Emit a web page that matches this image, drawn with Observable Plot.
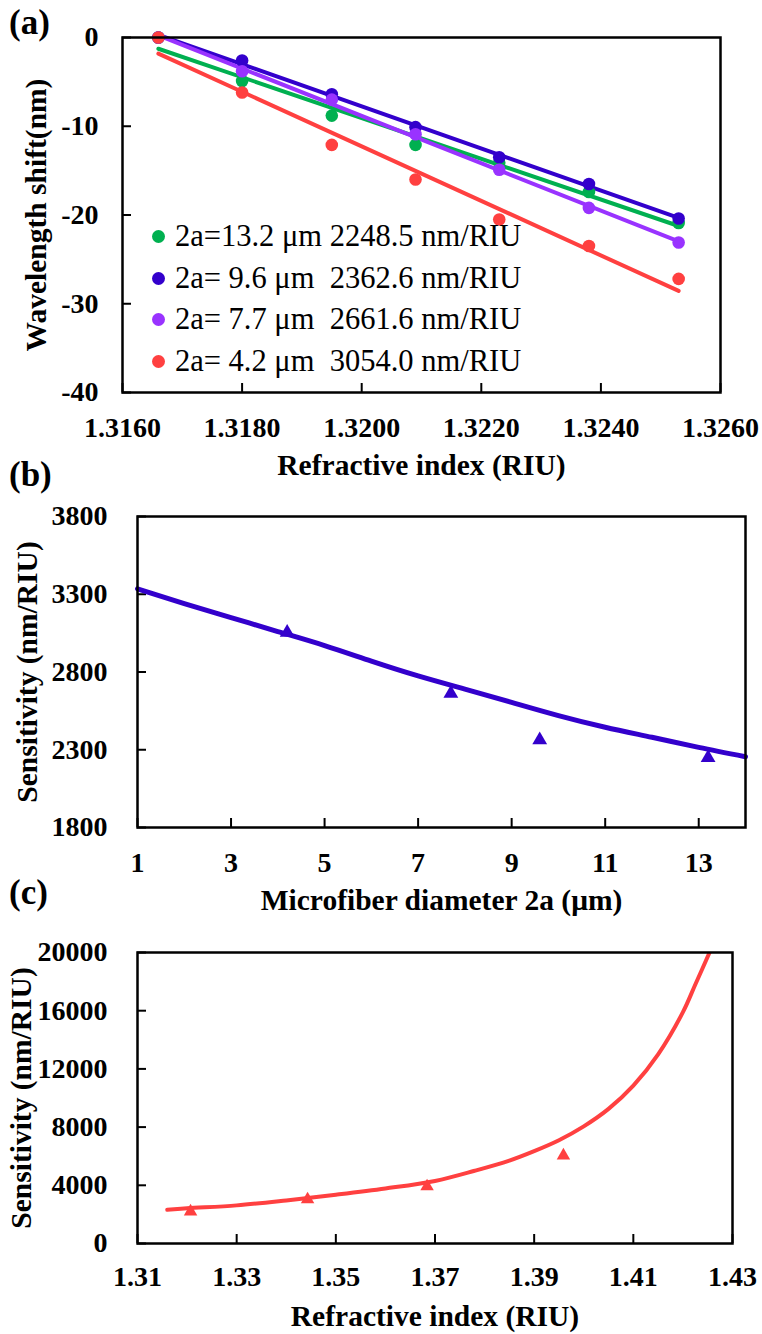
<!DOCTYPE html>
<html><head><meta charset="utf-8">
<script src="https://cdn.jsdelivr.net/npm/d3@7"></script>
<script src="https://cdn.jsdelivr.net/npm/@observablehq/plot@0.6"></script>
<style>
html,body{margin:0;padding:0;background:#fff;}
#page{position:relative;width:762px;height:1334px;overflow:hidden;font-family:"Liberation Serif","Times New Roman",serif;color:#000;background:#fff;}
.panel{position:absolute;left:0;}
.plabel{position:absolute;left:9px;font-weight:bold;font-size:35px;line-height:1;}
.legend{position:absolute;left:152px;top:216px;font-size:30.5px;line-height:41.5px;white-space:pre;}
.legend .row{display:flex;align-items:center;height:41.5px;}
.legend .sw{display:inline-block;width:13px;height:13px;border-radius:50%;margin-right:10px;}
</style>
</head><body>
<div id="page">
  <div class="panel" id="pa" style="top:0"></div>
  <div class="panel" id="pb" style="top:480px"></div>
  <div class="panel" id="pc" style="top:920px"></div>
  <div class="plabel" style="top:5px">(a)</div>
  <div class="plabel" style="top:457px">(b)</div>
  <div class="plabel" style="top:875px">(c)</div>
  <div class="legend" id="legA"></div>
</div>
<script>
// ---------- Panel (a) data ----------
const riA = [1.3166, 1.3180, 1.3195, 1.3209, 1.3223, 1.3238, 1.3253];
const shift132 = [0, -4.9, -8.8, -12.1, -14.1, -17.4, -20.9];
const shift96  = [0, -2.6, -6.4, -10.1, -13.5, -16.5, -20.4];
const shift77  = [0, -3.8, -7.0, -10.9, -14.9, -19.2, -23.1];
const shift42  = [0, -6.2, -12.1, -16.0, -20.5, -23.5, -27.2];
const seriesA = ["2a=13.2 μm 2248.5 nm/RIU", "2a= 9.6 μm  2362.6 nm/RIU", "2a= 7.7 μm  2661.6 nm/RIU", "2a= 4.2 μm  3054.0 nm/RIU"];
const colorsA = ["#00B050", "#3300CC", "#9933FF", "#FF4040"];
const xTicksA = [1.316, 1.318, 1.320, 1.322, 1.324, 1.326];
const yTicksA = [0, -10, -20, -30, -40];

// ---------- Panel (b) data ----------
const diamB = [4.2, 7.7, 9.6, 13.2];
const sensB = [3054.0, 2661.6, 2362.6, 2248.5];
const fitDiamB = [1, 2, 3, 4, 5, 6, 7, 8, 9, 10, 11, 12, 13, 14];
const fitSensB = [3335, 3240, 3150, 3060, 2970, 2870, 2775, 2690, 2605, 2520, 2445, 2380, 2315, 2255];
const xTicksB = [1, 3, 5, 7, 9, 11, 13];
const yTicksB = [1800, 2300, 2800, 3300, 3800];

// ---------- Panel (c) data ----------
const riC = [1.3207, 1.3443, 1.3684, 1.3959];
const sensC = [2200, 3030, 3920, 6040];
const fitRiC = [1.316, 1.320, 1.330, 1.340, 1.350, 1.360, 1.370, 1.378, 1.385, 1.390, 1.395, 1.400, 1.405, 1.410, 1.415, 1.420, 1.4225, 1.4255];
const fitSensC = [2320, 2420, 2620, 2960, 3350, 3780, 4300, 5000, 5700, 6350, 7100, 8050, 9250, 10850, 13000, 15900, 17800, 20100];
const xTicksC = [1.31, 1.33, 1.35, 1.37, 1.39, 1.41, 1.43];
const yTicksC = [0, 4000, 8000, 12000, 16000, 20000];

const baseStyle = {fontFamily: '"Liberation Serif", "Times New Roman", serif', fontWeight: "bold", fontSize: "28px", color: "#000", background: "transparent", overflow: "visible"};

// ---------- Build (a) ----------
const shiftsA = [shift132, shift96, shift77, shift42];
const dataA = seriesA.flatMap((s, i) => riA.map((x, j) => ({series: s, ri: x, shift: shiftsA[i][j]})));

const plotA = Plot.plot({
  width: 762, height: 480,
  marginLeft: 122, marginRight: 42, marginTop: 37, marginBottom: 88,
  style: baseStyle,
  x: {domain: [1.316, 1.326]},
  y: {domain: [-40, 0]},
  color: {domain: seriesA, range: colorsA},
  marks: [
    Plot.axisX({ticks: xTicksA, tickFormat: d => d.toFixed(4), tickSize: -9, tickPadding: 34, strokeWidth: 2, fontSize: 28, label: null}),
    Plot.axisY({ticks: yTicksA, tickFormat: d => String(d), tickSize: -9, tickPadding: 33, strokeWidth: 2, fontSize: 28, label: null}),
    Plot.linearRegressionY(dataA, {x: "ri", y: "shift", stroke: "series", z: "series", strokeWidth: 4, ci: 0}),
    Plot.dot(dataA, {x: "ri", y: "shift", fill: "series", r: 6.3}),
    Plot.frame({strokeWidth: 2.5}),
    Plot.text(["Refractive index (RIU)"], {frameAnchor: "bottom", text: d => d, dy: 73.5, lineAnchor: "middle", fontSize: 29.5}),
    Plot.text(["Wavelength shift(nm)"], {frameAnchor: "left", textAnchor: "middle", text: d => d, rotate: -90, dx: -86, lineAnchor: "middle", fontSize: 29.5})
  ]
});
document.getElementById("pa").appendChild(plotA);

// legend (a)
const leg = document.getElementById("legA");
seriesA.forEach((s, i) => {
  const row = document.createElement("div");
  row.className = "row";
  const sw = document.createElement("span");
  sw.className = "sw";
  sw.style.background = colorsA[i];
  const tx = document.createElement("span");
  tx.textContent = s;
  row.appendChild(sw); row.appendChild(tx);
  leg.appendChild(row);
});

// ---------- Build (b) ----------
const ptsB = diamB.map((d, i) => ({d, s: sensB[i]}));
const fitB = fitDiamB.map((d, i) => ({d, s: fitSensB[i]}));
const colB = "#3300CC";
const plotB = Plot.plot({
  width: 762, height: 440,
  marginLeft: 137, marginRight: 17, marginTop: 36, marginBottom: 93,
  style: baseStyle,
  x: {domain: [1, 14]},
  y: {domain: [1800, 3800]},
  marks: [
    Plot.axisX({ticks: xTicksB, tickFormat: d => String(d), tickSize: -9, tickPadding: 34, strokeWidth: 2, fontSize: 28, label: null}),
    Plot.axisY({ticks: yTicksB, tickFormat: d => String(d), tickSize: -9, tickPadding: 39, strokeWidth: 2, fontSize: 28, label: null}),
    Plot.line(fitB, {x: "d", y: "s", stroke: colB, strokeWidth: 5, curve: "natural"}),
    Plot.dot(ptsB, {x: "d", y: "s", fill: colB, symbol: "triangle", r: 5.5}),
    Plot.frame({strokeWidth: 2.5}),
    Plot.text(["Microfiber diameter 2a (μm)"], {frameAnchor: "bottom", text: d => d, dy: 73.5, lineAnchor: "middle", fontSize: 29.5}),
    Plot.text(["Sensitivity (nm/RIU)"], {frameAnchor: "left", textAnchor: "middle", text: d => d, rotate: -90, dx: -110, lineAnchor: "middle", fontSize: 29.5})
  ]
});
document.getElementById("pb").appendChild(plotB);

// ---------- Build (c) ----------
const ptsC = riC.map((r, i) => ({r, s: sensC[i]}));
const fitC = fitRiC.map((r, i) => ({r, s: fitSensC[i]}));
const colC = "#FF4040";
const plotC = Plot.plot({
  width: 762, height: 414,
  marginLeft: 137, marginRight: 30, marginTop: 32, marginBottom: 91,
  style: baseStyle,
  x: {domain: [1.31, 1.43]},
  y: {domain: [0, 20000]},
  marks: [
    Plot.axisX({ticks: xTicksC, tickFormat: d => d.toFixed(2), tickSize: -9, tickPadding: 32, strokeWidth: 2, fontSize: 28, label: null}),
    Plot.axisY({ticks: yTicksC, tickFormat: d => String(d), tickSize: -9, tickPadding: 39, strokeWidth: 2, fontSize: 28, label: null}),
    Plot.line(fitC, {x: "r", y: "s", stroke: colC, strokeWidth: 4, curve: "catmull-rom", clip: true}),
    Plot.dot(ptsC, {x: "r", y: "s", fill: colC, symbol: "triangle", r: 5}),
    Plot.frame({strokeWidth: 2.5}),
    Plot.text(["Refractive index (RIU)"], {frameAnchor: "bottom", text: d => d, dy: 73, lineAnchor: "middle", fontSize: 29.5}),
    Plot.text(["Sensitivity (nm/RIU)"], {frameAnchor: "left", textAnchor: "middle", text: d => d, rotate: -90, dx: -116, lineAnchor: "middle", fontSize: 29.5})
  ]
});
document.getElementById("pc").appendChild(plotC);
</script>
</body></html>
